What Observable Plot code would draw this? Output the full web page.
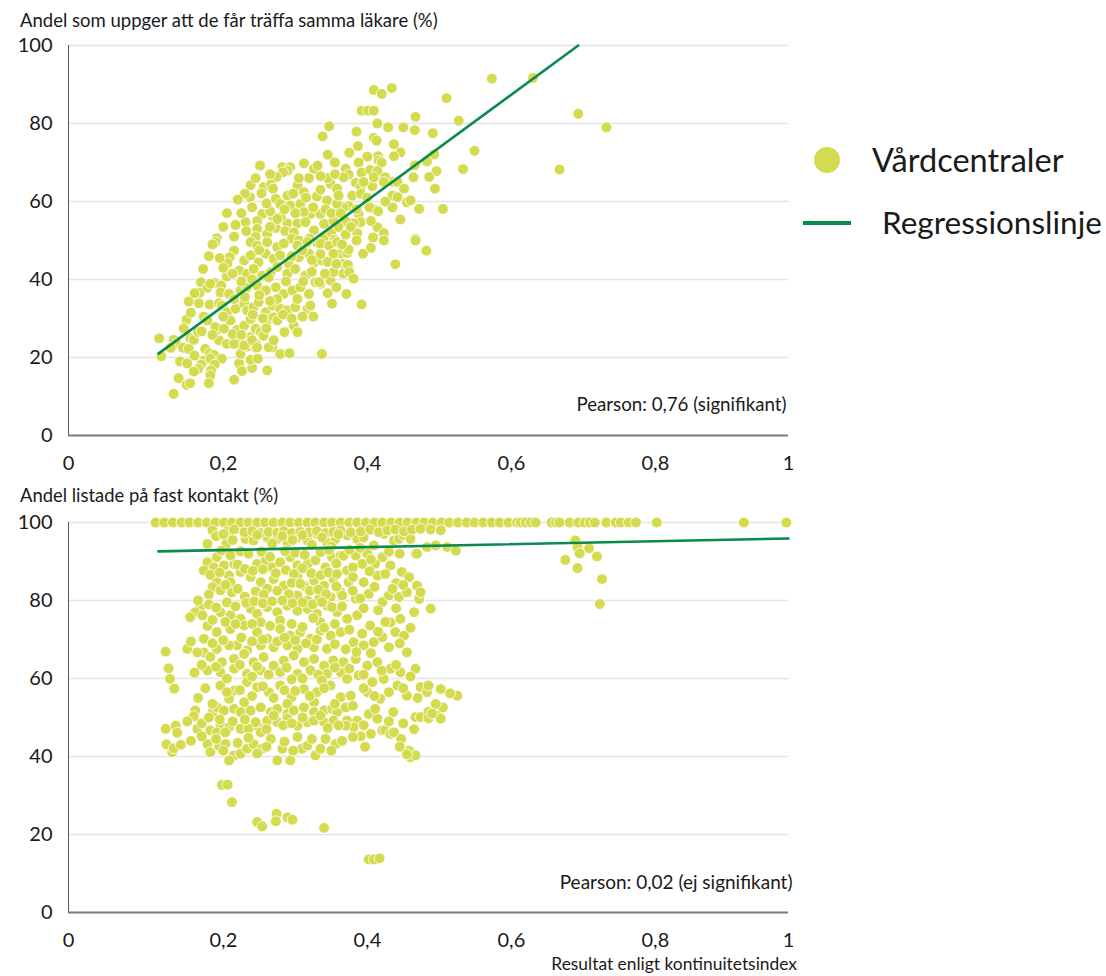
<!DOCTYPE html>
<html><head><meta charset="utf-8">
<script src="https://cdn.jsdelivr.net/npm/d3@7"></script>
<script src="https://cdn.jsdelivr.net/npm/@observablehq/plot@0.6"></script>
<style>
body{margin:0;background:#fff;font-family:Lato,'Open Sans',sans-serif;color:#1a1a1a}
#wrap{position:relative;width:1106px;height:976px;overflow:hidden;background:#fff}
.abs{position:absolute;white-space:nowrap}
</style></head><body><div id="wrap"></div>
<script>
const FONT = "Lato, 'Open Sans', sans-serif";
const titleTop = "Andel som uppger att de får träffa samma läkare (%)";
const titleBottom = "Andel listade på fast kontakt (%)";
const xTitle = "Resultat enligt kontinuitetsindex";
const pearsonTop = "Pearson: 0,76 (signifikant)";
const pearsonBottom = "Pearson: 0,02 (ej signifikant)";
const legendLabels = ["Vårdcentraler", "Regressionslinje"];
const yTicks = [0, 20, 40, 60, 80, 100];
const xTicks = [0, 0.2, 0.4, 0.6, 0.8, 1];
const xTickLabels = ["0", "0,2", "0,4", "0,6", "0,8", "1"];

// regression line end points [x, y]
const regTop = [[0.125, 21], [0.708, 100]];
const regBottom = [[0.125, 92.6], [1.0, 95.9]];

// top panel: [kontinuitetsindex, andel samma läkare %]
const vcTop = [
[.588,91.5],[.645,91.7],[.424,88.6],[.435,87.6],[.449,89.1],[.525,86.5],[.407,83.3],[.416,83.3],[.424,83.3],[.482,81.7],[.542,80.7],[.429,80],[.4,77.9],[.444,79],[.465,79],[.481,78.3],[.506,77.5],[.424,76.3],[.428,75.6],[.402,74.2],[.452,74.7],[.461,72.6],[.452,71.6],[.564,73],[.415,71.5],[.43,71.6],[.431,70.5],[.508,72.1],[.403,70],[.435,70],[.498,70.3],[.481,69.3],[.548,68.3],[.385,68.4],[.389,66.9],[.407,67.4],[.419,68.1],[.429,67.8],[.44,66.2],[.511,67.8],[.479,66.2],[.501,66.3],[.451,65],[.457,65],[.509,63.3],[.466,63.3],[.382,66.2],[.399,64.8],[.406,63.7],[.422,63.9],[.424,66.2],[.438,65],[.45,61.5],[.457,61.1],[.47,59.8],[.475,60.3],[.487,58.1],[.52,58.1],[.45,58.5],[.426,57.9],[.418,58.5],[.394,61.5],[.406,62],[.389,58.8],[.382,58.4],[.461,55.4],[.403,56.8],[.406,54.7],[.396,54.4],[.385,54.9],[.429,53.4],[.438,51.9],[.423,50.8],[.482,50.4],[.401,51.9],
[.708,82.5],[.747,79],[.682,68.2],
[.4,50],[.42,48.1],[.438,50],[.482,50],[.497,47.4],[.378,46.7],[.387,46.8],[.389,47.7],[.409,46.6],[.454,43.9],[.382,44],[.388,43.8],[.382,41.5],[.39,41.9],[.396,40.2],[.386,36.3],[.407,33.6],
[.362,79.3],[.353,76.7],[.266,69.2],[.297,68.8],[.308,68.8],[.304,67.9],[.298,67.5],[.327,69.8],[.341,68.4],[.346,69.2],[.289,66.3],[.334,66],[.253,64.2],[.271,63.7],[.281,64.4],[.284,63.3],[.318,64.1],[.327,62.4],[.252,61.1],[.268,62.1],[.288,60.7],[.304,61.5],[.312,62],[.364,64.5],[.373,63.3],[.345,61.3],[.359,60.3],[.373,59.4],[.294,59.4],[.308,59],[.322,59.4],[.336,56.8],[.35,56.8],[.269,56.8],[.284,56.2],[.327,57.3],[.246,54.7],[.262,55],[.304,54.4],[.318,54.4],[.329,54.7],[.355,54.3],[.247,52.4],[.262,53],[.276,51.7],[.288,53.2],[.301,52.4],[.313,52.1],[.341,52.6],[.368,55.1],[.206,50.6],[.23,51],[.26,50.9],
[.315,57],[.34,58.5],[.357,58],[.365,57],[.33,61],[.35,63],[.36,66],[.37,67],[.375,61.5],[.28,57.5],[.295,56],[.31,50.5],[.32,50],[.335,50.5],[.345,49.5],[.355,51],[.365,52],[.37,50.2],[.375,53.5],[.378,57],
[.204,49.6],[.2,49],[.23,47.4],[.224,45.7],[.221,44.2],[.187,42.7],[.22,40.8],[.184,39.3],[.182,36.6],[.193,37.9],[.203,39.1],[.212,38.5],[.223,36.3],[.167,34.4],[.181,33.9],[.196,33.6],[.209,33.9],[.164,29.7],[.188,30.5],[.193,29.5],[.206,27.1],[.126,24.9],[.146,24.5],[.15,23.5],[.159,22.5],[.169,25],[.174,24.5],[.167,22.2],[.129,20.3],[.19,22.2],[.196,21.1],[.202,20.7],[.188,19.2],[.184,18.2],[.18,17.1],[.174,16.4],[.197,19.7],[.213,19.7],[.203,18.2],[.198,16.7],[.153,14.7],[.164,13],[.169,13.4],[.146,10.7],[.197,15.4],[.195,13.4],[.23,14.3],[.237,18.5],[.241,16.5],[.255,17.3],[.253,19.4],[.263,19.7],[.276,16.7],[.239,20.9],[.234,23.5],[.248,22.8],[.26,23.5],[.26,22.5],[.253,25.2],[.266,26.5],[.285,24.5],[.283,22.6],[.294,20.9],[.307,21.1],[.352,20.9],
[.253,49.6],[.262,48.7],[.276,49.6],[.29,48.3],[.299,49.2],[.318,48.7],[.332,49.6],[.35,49.2],[.362,48.7],[.373,49.6],
[.244,44.9],[.253,46.2],[.264,44.4],[.274,46.6],[.285,45.3],[.294,46.2],[.306,44],[.32,45.7],[.334,46.6],[.341,44.4],[.352,44.9],[.368,46.6],
[.237,42.3],[.248,41.5],[.257,42.7],[.269,41],[.281,41.9],[.29,43.2],[.304,41.5],[.315,42.7],[.329,41],[.343,39.3],[.35,38.9],[.364,39.7],[.368,41.9],
[.197,38.9],[.211,36.7],[.223,36.3],[.239,37.2],[.248,38],[.262,38.5],[.274,37.2],[.288,38],[.299,36.3],[.311,37.2],[.322,38],[.334,36.3],[.348,39.3],[.366,33.8],
[.213,33.3],[.22,31.6],[.232,32.5],[.244,33.8],[.248,32.1],[.257,32.9],[.264,34.2],[.274,31.6],[.283,33.3],[.294,32.5],[.304,32.1],[.315,32.9],[.332,32.5],[.336,33.3],
[.204,27.8],[.216,27.4],[.225,29.5],[.234,27.1],[.244,28.2],[.253,29.9],[.26,27.4],[.267,26.5],[.278,29.9],[.285,30.3],[.313,28.2],[.318,26.5],
[.209,24.4],[.22,23.5],[.23,23.5],[.244,23.1],[.255,24.4],[.262,22.6],[.271,25.6],[.278,22.6],[.285,24.4],
[.215,43],[.228,41.5],[.24,39.5],[.255,40],[.265,36],[.278,40.5],[.29,35],[.302,39.5],[.318,35],[.326,39.5],[.338,42],[.356,41.5],[.36,36.5],[.372,38],[.23,35],[.245,35.5],[.256,31],[.27,30],[.28,34.5],[.29,29.5],[.298,31],[.31,30],[.325,30.5],[.34,30.5],[.215,30.5],[.228,26],[.24,25.8],[.275,27.5],[.3,26.5],[.232,54],[.24,57],[.255,58.5],[.275,59.5],[.265,47.5],[.28,53.5],[.29,55.5],[.3,58],[.31,46],[.325,47.5],[.338,45],[.35,46.5],[.36,44.5],[.372,44],[.38,49],[.385,51.5],[.392,53.5],[.4,58],[.415,61],[.42,55],[.43,57.5],[.44,60],[.41,65],[.37,70],[.36,72],[.39,72.5],[.35,66.5],[.32,66],[.28,67],[.26,66],[.245,62],[.235,60.5],[.22,57],[.215,53.5],[.195,46],[.21,45.5],[.175,36.5],[.17,31.5],[.18,26.5],[.16,27.5],[.185,26.7],[.2,25.8],[.142,22.5],[.155,19],[.165,18.5],[.175,20.5]
];

// bottom panel: [kontinuitetsindex, andel listade %]
const vcBottom100 = [.121,.133,.145,.157,.168,.18,.192,.204,.216,.227,.239,.25,.262,.273,.285,.297,.308,.32,.332,.343,.355,.366,.378,.39,.401,.413,.425,.436,.448,.46,.471,.483,.494,.506,.518,.529,.541,.553,.564,.576,.588,.599,.611,.623,.628,.635,.642,.649,.671,.677,.682,.696,.708,.717,.724,.731,.747,.76,.767,.778,.788,.817,.938,.997];
const vcBottom = [
[.704,95.4],[.707,93.7],[.71,92.1],[.723,93.4],[.734,91.3],[.69,90.4],[.707,88.3],[.741,85.5],[.738,79.1],
[.193,94.5],[.219,94.5],[.239,92.6],[.246,95.8],[.257,95.4],[.276,96.2],[.29,95.8],[.304,94.9],[.318,96.2],[.332,95.4],[.345,97.1],[.359,94.9],[.371,95.8],
[.244,97.5],[.255,97.8],[.267,97.3],[.278,97.6],[.29,97.4],[.299,97.8],[.31,97.3],[.322,97.6],[.334,97.5],[.345,97.8],[.357,97.3],[.368,97.6],[.2,98],[.22,97.7],[.23,98.2],
[.206,91.1],[.193,89.8],[.202,88.5],[.216,89],[.23,89.4],[.262,89.4],[.274,90.3],[.283,88.5],[.294,89.8],[.308,91.1],[.318,89],[.332,89.4],[.343,90.3],[.357,88.5],[.366,91.1],[.378,91.5],
[.188,87.7],[.223,86.4],[.239,87.3],[.225,84.7],[.206,84.7],[.2,83.4],[.211,82.6],[.227,82.1],[.253,86],[.267,84.7],[.276,83],[.285,85.5],[.299,83.8],[.318,86],[.327,83.8],[.341,85.1],[.355,83.8],[.368,85.5],[.378,82.1],[.318,81.3],[.332,80],[.348,80.4],[.364,80.9],
[.183,78.3],[.176,77],[.169,75.7],[.186,76.2],[.211,77],[.225,76.2],[.239,75.3],[.253,77.9],[.262,76.6],[.276,78.3],[.29,77],[.304,78.7],[.318,77.4],[.332,77.9],[.345,76.6],[.359,78.7],[.373,77],[.244,73.6],[.267,74.4],[.294,74.9],[.35,74.4],
[.188,70.2],[.206,71.9],[.225,72.7],[.262,71.9],[.276,70.2],[.294,72.7],[.308,71],[.322,71.9],[.336,70.2],[.35,72.3],[.364,71],[.378,71.9],[.234,68.5],[.248,67.2],[.267,68.5],[.285,68],[.304,68.5],[.318,67.6],[.341,68],[.359,67.6],[.188,66.7],[.206,67.6],[.223,68.5],
[.165,67.6],[.179,66.7],[.197,65.5],[.213,64.2],[.23,65],[.244,66.3],[.257,64.2],[.271,65.5],[.285,63.3],[.299,64.6],[.313,65.9],[.327,64.2],[.341,65],[.355,63.3],[.368,64.6],[.193,62.1],[.211,61.6],[.23,62.5],[.248,61.2],[.267,62.1],[.294,61.6],[.318,61.2],[.336,62.1],[.359,61.2],[.378,61.6],
[.211,58.2],[.23,56.9],[.248,59.1],[.262,57.8],[.278,56.5],[.294,58.2],[.31,55.2],[.327,57.3],[.345,56.5],[.364,58.2],[.378,55.2],[.223,54.8],[.244,53.9],[.304,53.5],[.341,53.9],
[.135,66.9],[.139,62.6],[.141,59.9],[.147,57.4],
[.135,47.1],[.149,47.9],[.151,46.1],[.136,43.1],[.144,41.1],[.146,42.1],[.156,43],
[.176,51.8],[.174,50.3],[.2,51.4],[.206,52.6],[.216,51.8],[.23,52.2],[.239,51.4],[.253,51.8],[.267,52.6],[.281,51.4],[.29,52.2],[.304,50.9],[.313,51.8],[.327,52.6],[.341,51.4],[.355,51.8],[.366,52.2],[.373,51.4],
[.179,47.1],[.197,46.7],[.211,47.9],[.223,47.5],[.239,47.1],[.25,47.1],[.264,47.5],[.276,49.2],[.29,48.8],[.304,49.7],[.318,47.9],[.332,48.8],[.341,49.2],[.355,48.8],[.368,49.2],[.206,46.2],[.218,46.2],[.267,46.2],
[.193,43.2],[.197,41.1],[.209,42.8],[.218,43.2],[.23,40.3],[.239,40.7],[.248,42],[.257,43.2],[.269,42],[.281,44.5],[.29,39],[.297,42],[.308,39],[.318,45],[.324,42],[.332,42.8],[.343,40.3],[.357,44.5],[.371,43.2],[.223,39],
[.213,32.7],[.221,32.8],[.227,28.3],[.262,23.2],[.269,22.1],[.289,25.3],[.288,23.4],[.304,24.4],[.311,23.8],[.355,21.7],
[.387,96.7],[.401,95.8],[.41,96.2],[.424,94.1],[.438,97.1],[.452,95.4],[.459,95.8],[.466,96.7],[.475,95.8],[.482,92],[.498,93.7],[.51,94.1],[.526,93.7],[.538,92.8],[.484,92],[.382,91.5],[.399,91.5],[.415,92],[.436,91.1],[.447,89],[.463,87.3],[.473,86],[.484,83.8],[.387,87.7],[.408,89.4],[.426,89.4],[.429,86.4],[.389,84.7],[.41,84.7],[.38,81.3],[.399,80.4],[.417,81.7],[.436,79.6],[.445,81.3],[.459,80.9],[.47,82.1],[.487,80.4],[.489,82.1],[.503,77.9],[.387,75.3],[.401,76.2],[.419,73.6],[.447,74.4],[.461,75.3],[.454,71.9],[.466,71],[.396,69.3],[.41,68.5],[.424,69.3],[.436,70.6],[.47,66.7],[.382,64.2],[.399,65],[.415,63.3],[.429,64.2],[.447,62.5],[.461,61.6],[.482,62.5],[.387,59.9],[.403,60.8],[.422,59.1],[.438,59.9],[.457,58.2],[.489,57.8],[.517,57.3],[.54,55.6],[.392,55.6],[.415,56.5],[.433,54.8],[.47,55.6],[.498,56.5],
[.378,98],[.392,97.5],[.406,97.7],[.419,98.2],[.431,97.5],[.443,98],[.454,98.2],[.466,97.7],[.477,98.2],[.489,98.4],[.503,98.2],[.517,98],
[.385,52.6],[.387,49.2],[.401,49.2],[.396,47.5],[.385,47.9],[.406,45.2],[.42,45.8],[.417,50.9],[.429,49.7],[.426,52.2],[.436,46.7],[.44,46.7],[.447,45.8],[.452,46.2],[.462,44.5],[.451,51.4],[.482,50.1],[.489,50.1],[.5,51.5],[.5,49.8],[.514,50.5],[.517,49.7],[.52,52.6],[.473,41.5],[.475,39.8],[.482,40.3],[.417,13.6],[.424,13.6],[.432,13.9],
[.205,96.5],[.215,97],[.228,95.5],[.262,96.8],[.283,94.6],[.297,96.5],[.311,95.5],[.325,96.8],[.338,94.3],[.352,96.2],[.365,93.8],[.375,97],
[.212,92.8],[.225,91.6],[.25,92],[.268,92.5],[.28,91.2],[.301,92.7],[.315,92.2],[.328,91.7],[.35,92.4],[.362,92.9],[.372,89.5],[.39,93],[.405,93.5],[.42,90.5],[.445,92.5],[.46,92],
[.197,86.6],[.21,87.2],[.235,89.2],[.245,88.1],[.256,87.6],[.27,88],[.288,87],[.302,87.8],[.313,86.8],[.325,88.3],[.337,87],[.35,86.5],[.361,87.2],[.373,86.8],[.395,88.5],[.418,87.5],[.44,86.8],[.455,84.5],[.395,86],
[.195,81.5],[.218,84],[.235,83],[.245,81],[.26,82.3],[.271,81.5],[.29,82.5],[.306,81.6],[.31,84.5],[.322,84.3],[.335,82.5],[.347,82.8],[.358,81.6],[.372,83.6],[.395,82.5],[.405,80.5],[.425,83.5],[.45,83],[.465,84],
[.18,80],[.195,79],[.205,78.2],[.22,79.5],[.232,78.5],[.247,79.4],[.258,79.8],[.27,79.3],[.283,79.8],[.297,80],[.311,79.3],[.325,79.5],[.339,79],[.352,79.6],[.366,78.3],[.38,78.5],[.41,78],[.43,77.5],[.455,78],[.48,77],
[.193,73.5],[.2,75],[.218,74.5],[.232,74],[.255,74],[.28,73.5],[.31,74],[.325,73.2],[.34,75.5],[.355,73],[.37,74],[.39,72.5],[.408,71.5],[.43,72],[.44,74.5],[.475,73],
[.17,69.5],[.2,69],[.215,69.8],[.24,70.5],[.255,69.5],[.27,70],[.29,69.5],[.3,70.5],[.315,69.8],[.33,69],[.345,70],[.37,68.8],[.385,67.5],[.4,66.8],[.42,66.5],[.445,68],[.46,69],
[.175,61.5],[.185,63.5],[.205,63],[.22,60],[.238,63.5],[.255,60.5],[.262,63],[.278,61],[.303,62.8],[.31,59.8],[.325,60],[.347,61],[.352,59.5],[.37,62.8],[.39,62.5],[.41,61],[.435,62],[.455,63.5],[.475,60.5],[.5,58.2],
[.18,55],[.19,57.5],[.2,53.5],[.22,56.5],[.238,57],[.255,55.5],[.27,58],[.285,55],[.3,57],[.315,56.8],[.335,55.5],[.355,57.5],[.37,53.5],[.395,53],[.41,57.5],[.425,55.5],[.445,56.5],[.465,57.5],[.485,55],[.51,53.5],[.53,56.2],
[.165,49],[.185,48.5],[.195,50],[.21,49.5],[.228,49],[.245,49.5],[.26,48.8],[.275,47],[.285,50.5],[.298,48],[.31,48.5],[.325,50],[.35,50.5],[.36,47.3],[.375,48],[.41,48],[.445,49],[.465,48.5],[.48,47],[.505,51],
[.17,44],[.185,45.2],[.205,44.5],[.215,41.5],[.235,43.5],[.25,44.8],[.262,40.8],[.275,42.5],[.3,43.8],[.312,41.5],[.338,44.5],[.35,42],[.365,41.5],[.38,44],[.395,45],[.412,42.5],[.46,42.5],[.47,40.6]
];

const DOT = "#d5db4f";
const LINE = "#0b8a4e";
const fmtX = d => xTickLabels[xTicks.findIndex(t => Math.abs(t - d) < 1e-9)];

function panel(points, reg, pearson, pdx, pfs) {
  return Plot.plot({
    width: 800, height: 480,
    marginLeft: 68, marginRight: 12, marginTop: 45, marginBottom: 45,
    style: {fontFamily: FONT, fontSize: "20px", color: "#1a1a1a", background: "transparent", overflow: "visible"},
    x: {domain: [0, 1], label: null},
    y: {domain: [0, 100], label: null},
    marks: [
      Plot.gridY(yTicks.slice(1), {stroke: "#e4e4e4", strokeOpacity: 1, strokeWidth: 1.3}),
      Plot.axisY({ticks: yTicks, tickSize: 0, tickPadding: 16, fontSize: 20, label: null}),
      Plot.axisX({ticks: [xTicks[0], xTicks[5]], tickSize: 0, tickPadding: 20, fontSize: 20, label: null, tickFormat: fmtX}),
      Plot.axisX({ticks: xTicks.slice(1, 5), tickSize: 0, tickPadding: 20, fontSize: 20, label: null, tickFormat: fmtX, textAnchor: "start", dx: -3}),
      Plot.ruleX([0], {stroke: "#555", strokeWidth: 1}),
      Plot.dot(points, {x: d => d[0], y: d => d[1], r: 5.4, fill: DOT, fillOpacity: 1, stroke: "#ffffff", strokeWidth: 0.8}),
      Plot.line(reg, {x: d => d[0], y: d => d[1], stroke: LINE, strokeWidth: 2.6}),
      Plot.ruleY([0], {stroke: "#7a7a7a", strokeWidth: 2}),
      Plot.text([pearson], {frameAnchor: "bottom-right", dy: -30, dx: pdx, textAnchor: "end", lineAnchor: "middle", fontSize: pfs, fill: "#1a1a1a"})
    ]
  });
}

const wrap = document.getElementById("wrap");
function addDiv(text, css) {
  const d = document.createElement("div");
  d.className = "abs";
  d.textContent = text;
  Object.assign(d.style, css);
  wrap.appendChild(d);
  return d;
}

const p1 = panel(vcTop, regTop, pearsonTop, -2, 18.7);
p1.style.position = "absolute"; p1.style.left = "0px"; p1.style.top = "0px";
wrap.appendChild(p1);

const bottomPoints = vcBottom100.map(x => [x, 100]).concat(vcBottom);
const p2 = panel(bottomPoints, regBottom, pearsonBottom, 4, 19);
p2.style.position = "absolute"; p2.style.left = "0px"; p2.style.top = "477px";
wrap.appendChild(p2);

addDiv(titleTop, {left: "20px", top: "9px", fontSize: "18.5px", lineHeight: "22px"});
addDiv(titleBottom, {left: "20px", top: "484px", fontSize: "18.4px", lineHeight: "22px"});
addDiv(xTitle, {right: "309px", top: "954px", fontSize: "17.4px", lineHeight: "20px"});

// legend
const ns = "http://www.w3.org/2000/svg";
const lg = document.createElementNS(ns, "svg");
lg.setAttribute("width", 316); lg.setAttribute("height", 120);
Object.assign(lg.style, {position: "absolute", left: "790px", top: "130px"});
const c = document.createElementNS(ns, "circle");
c.setAttribute("cx", 37); c.setAttribute("cy", 30); c.setAttribute("r", 13); c.setAttribute("fill", DOT);
lg.appendChild(c);
const l = document.createElementNS(ns, "line");
l.setAttribute("x1", 13); l.setAttribute("x2", 61); l.setAttribute("y1", 93); l.setAttribute("y2", 93);
l.setAttribute("stroke", LINE); l.setAttribute("stroke-width", 4);
lg.appendChild(l);
wrap.appendChild(lg);
addDiv(legendLabels[0], {left: "872px", top: "141px", fontSize: "32.5px", lineHeight: "38px"});
addDiv(legendLabels[1], {left: "882px", top: "203px", fontSize: "31.5px", lineHeight: "38px"});
</script></body></html>
